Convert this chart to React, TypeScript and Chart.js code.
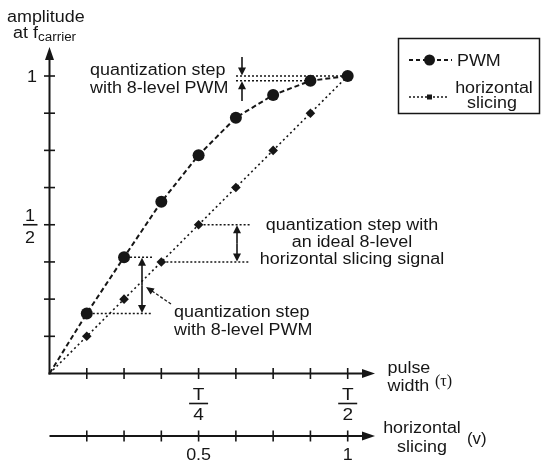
import React, { useEffect, useRef } from "react";
import { Chart, registerables } from "chart.js";

Chart.register(...registerables);

// ---- data ----
const pulseWidth = [0, 0.125, 0.25, 0.375, 0.5, 0.625, 0.75, 0.875, 1];
const pwmAmplitude = [0, 0.202, 0.391, 0.577, 0.734, 0.86, 0.936, 0.984, 1];
const slicingAmplitude = [0, 0.125, 0.25, 0.375, 0.5, 0.625, 0.75, 0.875, 1];
const xTickValues = [0.125, 0.25, 0.375, 0.5, 0.625, 0.75, 0.875, 1];
const yTickValues = [0.125, 0.25, 0.375, 0.5, 0.625, 0.75, 0.875, 1];
const pulseTickLabels = [
  { value: 0.5, num: "T", den: "4" },
  { value: 1, num: "T", den: "2" },
];
const slicingTickLabels = [
  { value: 0.5, text: "0.5" },
  { value: 1, text: "1" },
];
const amplitudeFractionLabels = [{ value: 0.5, num: "1", den: "2" }];
const amplitudeTextLabels = [{ value: 1, text: "1" }];

const FONT = '"Liberation Sans", Arial, Helvetica, sans-serif';
const SERIF = '"Liberation Serif", "DejaVu Serif", serif';
const INK = "#161616";
const SX = 1.12;

function txt(
  ctx: CanvasRenderingContext2D,
  s: string,
  x: number,
  y: number,
  size = 16,
  align: CanvasTextAlign = "left",
  family = FONT,
  sx = SX
) {
  ctx.save();
  ctx.font = `${size}px ${family}`;
  ctx.fillStyle = INK;
  ctx.textBaseline = "alphabetic";
  ctx.textAlign = align;
  ctx.translate(x, y);
  ctx.scale(sx, 1);
  ctx.fillText(s, 0, 0);
  ctx.restore();
}

function line(
  ctx: CanvasRenderingContext2D,
  x1: number,
  y1: number,
  x2: number,
  y2: number,
  width = 2,
  dash: number[] = []
) {
  ctx.save();
  ctx.strokeStyle = INK;
  ctx.lineWidth = width;
  ctx.setLineDash(dash);
  ctx.beginPath();
  ctx.moveTo(x1, y1);
  ctx.lineTo(x2, y2);
  ctx.stroke();
  ctx.restore();
}

function head(
  ctx: CanvasRenderingContext2D,
  tx: number,
  ty: number,
  fx: number,
  fy: number,
  len = 9,
  half = 4
) {
  const dx = tx - fx;
  const dy = ty - fy;
  const d = Math.hypot(dx, dy) || 1;
  const ux = dx / d;
  const uy = dy / d;
  const bx = tx - ux * len;
  const by = ty - uy * len;
  ctx.save();
  ctx.fillStyle = INK;
  ctx.beginPath();
  ctx.moveTo(tx, ty);
  ctx.lineTo(bx - uy * half, by + ux * half);
  ctx.lineTo(bx + uy * half, by - ux * half);
  ctx.closePath();
  ctx.fill();
  ctx.restore();
}

function arrow(
  ctx: CanvasRenderingContext2D,
  fx: number,
  fy: number,
  tx: number,
  ty: number,
  width = 1.6,
  len = 9,
  half = 4
) {
  const d = Math.hypot(tx - fx, ty - fy);
  const k = (d - len + 1) / d;
  line(ctx, fx, fy, fx + (tx - fx) * k, fy + (ty - fy) * k, width);
  head(ctx, tx, ty, fx, fy, len, half);
}

const DOT = [2, 2];

const figurePlugin = {
  id: "figure",
  beforeDatasetsDraw(chart: any) {
    const ctx: CanvasRenderingContext2D = chart.ctx;
    const xs = chart.scales.x;
    const ys = chart.scales.y;
    const x0 = xs.getPixelForValue(0);
    const y0 = ys.getPixelForValue(0);
    const y2 = y0 + 62.5; // second (horizontal slicing) axis
    const xEnd = 375;

    // y axis
    line(ctx, x0, y0 + 1, x0, 58, 2);
    head(ctx, x0, 47, x0, 70, 13, 4.5);
    // x axis (pulse width)
    line(ctx, x0 - 1, y0, xEnd - 10, y0, 2);
    head(ctx, xEnd, y0, x0, y0, 13, 4.5);
    // second axis
    line(ctx, x0, y2, xEnd - 10, y2, 2);
    head(ctx, xEnd, y2, x0, y2, 13, 4.5);

    for (const v of xTickValues) {
      const px = xs.getPixelForValue(v);
      line(ctx, px, y0 - 5.5, px, y0 + 5.5, 1.6);
      line(ctx, px, y2 - 5.5, px, y2 + 5.5, 1.6);
    }
    for (const v of yTickValues) {
      const py = ys.getPixelForValue(v);
      line(ctx, x0 - 5.5, py, x0 + 5.5, py, 1.6);
    }

    // y tick labels
    for (const t of amplitudeTextLabels) {
      const py = ys.getPixelForValue(t.value);
      txt(ctx, t.text, 32, py + 6, 16, "center");
    }
    for (const t of amplitudeFractionLabels) {
      const py = ys.getPixelForValue(t.value);
      txt(ctx, t.num, 30, py - 4, 16, "center");
      line(ctx, 23, py, 37.5, py, 1.6);
      txt(ctx, t.den, 30, py + 18.5, 16, "center");
    }
    // pulse width tick labels
    for (const t of pulseTickLabels) {
      const px = xs.getPixelForValue(t.value);
      txt(ctx, t.num, px, y0 + 26.5, 17, "center");
      line(ctx, px - 9.5, y0 + 30, px + 9.5, y0 + 30, 1.6);
      txt(ctx, t.den, px, y0 + 46, 17, "center");
    }
    // slicing tick labels
    for (const t of slicingTickLabels) {
      const px = xs.getPixelForValue(t.value);
      txt(ctx, t.text, px, y2 + 23.5, 16, "center");
    }

    // axis titles
    txt(ctx, "amplitude", 7, 22, 16);
    txt(ctx, "at f", 13, 38, 16);
    txt(ctx, "carrier", 38, 41, 12);
    txt(ctx, "pulse", 387.5, y0 - 0.5, 16);
    txt(ctx, "width", 387.5, y0 + 17.5, 16);
    txt(ctx, "(\u03c4)", 435, y0 + 12, 16, "left", SERIF, 1);
    txt(ctx, "horizontal", 422, y2 - 3.5, 16, "center");
    txt(ctx, "slicing", 422, y2 + 15.5, 16, "center");
    txt(ctx, "(v)", 467, y2 + 8, 16, "left", FONT, 1.05);
  },
  afterDatasetsDraw(chart: any) {
    const ctx: CanvasRenderingContext2D = chart.ctx;
    const xs = chart.scales.x;
    const ys = chart.scales.y;
    const X = (v: number) => xs.getPixelForValue(v);
    const Y = (v: number) => ys.getPixelForValue(v);

    // --- upper annotation: PWM quantization step near the top
    const yTop = Y(pwmAmplitude[8]);
    const y7 = Y(pwmAmplitude[7]);
    line(ctx, 236, yTop, X(pulseWidth[8]), yTop, 1.5, DOT);
    line(ctx, 236, y7, X(pulseWidth[7]), y7, 1.5, DOT);
    arrow(ctx, 242, 57, 242, yTop - 0.5, 1.6, 8, 4);
    arrow(ctx, 242, 101, 242, y7 + 0.5, 1.6, 8, 4);
    txt(ctx, "quantization step", 90, 75, 16);
    txt(ctx, "with 8-level PWM", 90, 93, 16);

    // --- middle annotation: ideal horizontal slicing step
    const ya = Y(slicingAmplitude[4]);
    const yb = Y(slicingAmplitude[3]);
    line(ctx, X(pulseWidth[4]) + 5, ya, 250, ya, 1.5, DOT);
    line(ctx, X(pulseWidth[3]) + 5, yb, 250, yb, 1.5, DOT);
    arrow(ctx, 237, (ya + yb) / 2, 237, ya + 0.5, 1.6, 8, 4);
    arrow(ctx, 237, (ya + yb) / 2, 237, yb - 0.5, 1.6, 8, 4);
    txt(ctx, "quantization step with", 352, 230, 16, "center");
    txt(ctx, "an ideal 8-level", 352, 247, 16, "center");
    txt(ctx, "horizontal slicing signal", 352, 264, 16, "center");

    // --- lower annotation: PWM step near the origin
    const yc = Y(pwmAmplitude[2]);
    const yd = Y(pwmAmplitude[1]);
    line(ctx, X(pulseWidth[2]) + 6, yc, 152, yc, 1.5, DOT);
    line(ctx, X(pulseWidth[1]) + 6, yd, 152, yd, 1.5, DOT);
    arrow(ctx, 142, (yc + yd) / 2, 142, yc + 0.5, 1.6, 8, 4);
    arrow(ctx, 142, (yc + yd) / 2, 142, yd - 0.5, 1.6, 8, 4);
    line(ctx, 171, 304, 152, 291, 1.3, [3, 2]);
    head(ctx, 146, 287, 171, 304, 8, 3.5);
    txt(ctx, "quantization step", 174, 317, 16);
    txt(ctx, "with 8-level PWM", 174, 335, 16);

    // --- legend
    ctx.save();
    ctx.strokeStyle = INK;
    ctx.lineWidth = 1.5;
    ctx.strokeRect(398.5, 38.5, 141, 75);
    ctx.restore();
    line(ctx, 409, 60, 452, 60, 2, [4, 3]);
    ctx.save();
    ctx.fillStyle = INK;
    ctx.beginPath();
    ctx.arc(429.5, 60, 5.5, 0, Math.PI * 2);
    ctx.fill();
    ctx.restore();
    txt(ctx, "PWM", 457, 65.5, 16);
    line(ctx, 409, 97, 448, 97, 1.5, DOT);
    ctx.save();
    ctx.fillStyle = INK;
    ctx.fillRect(427, 94.5, 5, 5);
    ctx.restore();
    txt(ctx, "horizontal", 494, 93, 16, "center");
    txt(ctx, "slicing", 492, 108, 16, "center");
  },
};

export default function App() {
  const ref = useRef<HTMLCanvasElement>(null);
  useEffect(() => {
    if (!ref.current) return;
    const pwmData = pulseWidth.map((x, i) => ({ x, y: pwmAmplitude[i] }));
    const slicingData = pulseWidth.map((x, i) => ({ x, y: slicingAmplitude[i] }));
    const chart = new Chart(ref.current, {
      type: "line",
      data: {
        datasets: [
          {
            label: "PWM",
            data: pwmData,
            borderColor: INK,
            backgroundColor: INK,
            borderWidth: 2,
            borderDash: [5, 3],
            pointStyle: "circle",
            pointRadius: pwmData.map((_, i) => (i === 0 ? 0 : 6)),
            pointBackgroundColor: INK,
            pointBorderWidth: 0,
            tension: 0,
            clip: false,
          },
          {
            label: "horizontal slicing",
            data: slicingData,
            borderColor: INK,
            backgroundColor: INK,
            borderWidth: 1.6,
            borderDash: [2, 3],
            pointStyle: "rectRot",
            pointRadius: slicingData.map((_, i) =>
              i === 0 || i === slicingData.length - 1 ? 0 : 4.8
            ),
            pointBackgroundColor: INK,
            pointBorderWidth: 0,
            tension: 0,
            clip: false,
          },
        ],
      },
      options: {
        responsive: false,
        animation: false,
        devicePixelRatio: 1,
        layout: { padding: { left: 49.5, right: 193.3, top: 76, bottom: 88.5 } },
        scales: {
          x: { type: "linear", min: 0, max: 1, display: false },
          y: { type: "linear", min: 0, max: 1, display: false },
        },
        plugins: { legend: { display: false }, tooltip: { enabled: false } },
      },
      plugins: [figurePlugin],
    });
    return () => chart.destroy();
  }, []);
  return (
    <div style={{ position: "absolute", left: 0, top: 0, width: 541, height: 462, background: "#fff" }}>
      <canvas ref={ref} width={541} height={462} />
    </div>
  );
}
